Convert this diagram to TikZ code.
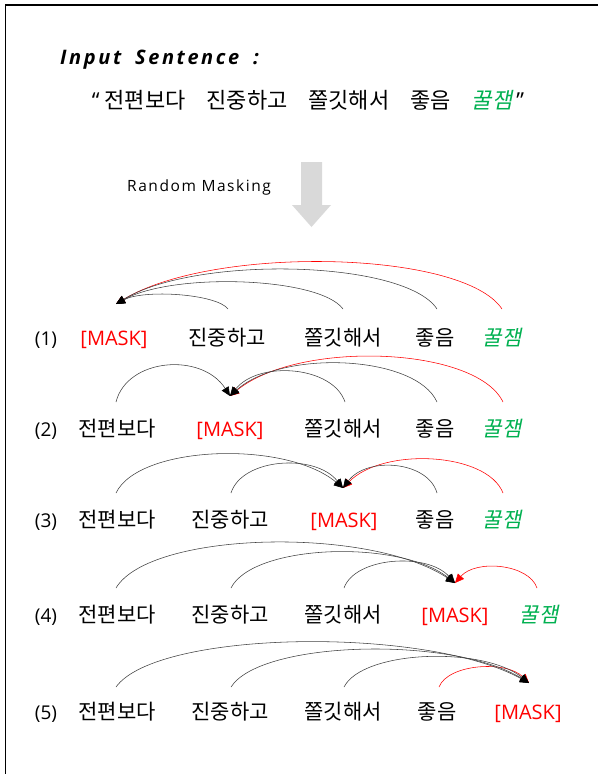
\documentclass[tikz,border=0pt]{standalone}
\usepackage{fontspec}
\usetikzlibrary{arrows.meta}
\setmainfont{Open Sans}
\newfontfamily\kr{Noto Sans CJK KR}
\newfontfamily\krit[FakeSlant=0.2]{Noto Sans CJK KR}
\newfontfamily\titlefont[LetterSpace=13]{Open Sans}
\newfontfamily\rmfont[LetterSpace=10]{Open Sans}
\definecolor{mygreen}{RGB}{0,176,80}
\definecolor{myred}{RGB}{255,0,0}
\definecolor{arrowgray}{RGB}{217,217,217}
\tikzset{
  word/.style={anchor=base, inner sep=0pt, font=\kr\fontsize{21}{21}\selectfont},
  maskw/.style={anchor=base, inner sep=0pt, text=myred, font=\fontsize{20}{20}\selectfont},
  greenw/.style={anchor=base, inner sep=0pt, text=mygreen, font=\krit\fontsize{21}{21}\selectfont},
  rowlab/.style={anchor=base, inner sep=0pt, font=\fontsize{19}{19}\selectfont},
  arcblk/.style={line width=0.55pt, black!75, -{Triangle[length=9pt,width=8pt,color=black,fill=black]}},
  arcred/.style={line width=0.55pt, myred, -{Triangle[length=9pt,width=8pt]}},
}
\begin{document}
\begin{tikzpicture}[x=1pt,y=-1pt]
\useasboundingbox (0,0) rectangle (598,774);
% frame
\draw[line width=1.6pt] (5,5) -- (598,5);
\draw[line width=0.8pt] (5,5) -- (5,774);
% title
\node[anchor=base west, inner sep=0pt, font=\titlefont\bfseries\itshape\fontsize{20}{20}\selectfont] (title) at (60,64) {Input\hspace{6pt} Sentence\hspace{6pt} :};
\node[anchor=base, inner sep=0pt, font=\kr\fontsize{22}{22}\selectfont] (sent) at (308,108) {{\rmfamily “}\hspace{5pt}전편보다\hspace{21pt}진중하고\hspace{21pt}쫄깃해서\hspace{21pt}좋음\hspace{21pt}{\krit\color{mygreen}꿀잼}\hspace{4pt}{\rmfamily ”}};
\node[anchor=base west, inner sep=0pt, font=\rmfont\fontsize{15.5}{15.5}\selectfont] (rm) at (127,191) {Random Masking};
\fill[arrowgray] (301,162) -- (322,162) -- (322,205) -- (331,205) -- (311.5,227) -- (292,205) -- (301,205) -- cycle;

% ---------- row 1
\node[rowlab] (l1) at (46,345) {(1)};
\node[maskw] (w11) at (114,345) {[MASK]};
\node[word] (w12) at (227,345) {진중하고};
\node[word] (w13) at (343,345) {쫄깃해서};
\node[word] (w14) at (435,345) {좋음};
\node[greenw] (w15) at (502,345) {꿀잼};
\coordinate (t1) at (116,304);
\coordinate (s12) at (228,309);
\coordinate (s13) at (343,309);
\coordinate (s14) at (437,309);
\coordinate (s15) at (502,309);
\draw[arcred] (s15) .. controls +(-39,-59) and +(97,-59) .. (t1);
\draw[arcblk] (s12) .. controls +(-11,-15) and +(28,-15) .. (t1);
\draw[arcblk] (s13) .. controls +(-23,-32) and +(57,-32) .. (t1);
\draw[arcblk] (s14) .. controls +(-32,-49) and +(80,-49) .. (t1);

% ---------- row 2
\node[rowlab] (l2) at (46,436) {(2)};
\node[word] (w21) at (117,436) {전편보다};
\node[maskw] (w22) at (230,436) {[MASK]};
\node[word] (w23) at (343,436) {쫄깃해서};
\node[word] (w24) at (435,436) {좋음};
\node[greenw] (w25) at (502,436) {꿀잼};
\coordinate (t2) at (230,396);
\coordinate (s21) at (116,402);
\coordinate (s23) at (345,402);
\coordinate (s24) at (437,402);
\coordinate (s25) at (503,402);
\draw[arcred] (s25) .. controls +(-27,-56) and +(68,-56) .. (t2);
\draw[arcblk] (s21) .. controls +(11,-44) and +(-28,-44) .. (t2);
\draw[arcblk] (s23) .. controls +(-12,-36) and +(29,-36) .. (t2);
\draw[arcblk] (s24) .. controls +(-21,-47) and +(52,-47) .. (t2);

% ---------- row 3
\node[rowlab] (l3) at (46,527) {(3)};
\node[word] (w31) at (117,527) {전편보다};
\node[word] (w32) at (230,527) {진중하고};
\node[maskw] (w33) at (344,527) {[MASK]};
\node[word] (w34) at (435,527) {좋음};
\node[greenw] (w35) at (502,527) {꿀잼};
\coordinate (t3) at (343,488);
\coordinate (s31) at (116,493);
\coordinate (s32) at (231,493);
\coordinate (s34) at (437,493);
\coordinate (s35) at (503,493);
\draw[arcred] (s35) .. controls +(-16,-41) and +(40,-41) .. (t3);
\draw[arcblk] (s31) .. controls +(23,-48) and +(-57,-48) .. (t3);
\draw[arcblk] (s32) .. controls +(11,-35) and +(-28,-35) .. (t3);
\draw[arcblk] (s34) .. controls +(-9,-32) and +(24,-32) .. (t3);

% ---------- row 4
\node[rowlab] (l4) at (46,622) {(4)};
\node[word] (w41) at (117,622) {전편보다};
\node[word] (w42) at (230,622) {진중하고};
\node[word] (w43) at (343,622) {쫄깃해서};
\node[maskw] (w44) at (455,622) {[MASK]};
\node[greenw] (w45) at (539,622) {꿀잼};
\coordinate (t4) at (455,583);
\coordinate (s41) at (116,588);
\coordinate (s42) at (231,588);
\coordinate (s43) at (344,588);
\coordinate (s45) at (537,588);
\draw[arcblk] (s41) .. controls +(34,-57) and +(-85,-57) .. (t4);
\draw[arcblk] (s42) .. controls +(22,-44) and +(-56,-44) .. (t4);
\draw[arcblk] (s43) .. controls +(11,-31) and +(-28,-31) .. (t4);
\draw[arcred] (s45) .. controls +(-8,-24) and +(21,-24) .. (t4);

% ---------- row 5
\node[rowlab] (l5) at (46,719) {(5)};
\node[word] (w51) at (117,719) {전편보다};
\node[word] (w52) at (230,719) {진중하고};
\node[word] (w53) at (343,719) {쫄깃해서};
\node[word] (w54) at (437,719) {좋음};
\node[maskw] (w55) at (528,719) {[MASK]};
\coordinate (t5) at (529,683);
\coordinate (s51) at (116,687);
\coordinate (s52) at (231,687);
\coordinate (s53) at (344,687);
\coordinate (s54) at (439,687);
\draw[arcred] (s54) .. controls +(9,-23) and +(-23,-23) .. (t5);
\draw[arcblk] (s51) .. controls +(41,-57) and +(-103,-57) .. (t5);
\draw[arcblk] (s52) .. controls +(30,-47) and +(-75,-47) .. (t5);
\draw[arcblk] (s53) .. controls +(19,-37) and +(-46,-37) .. (t5);
\end{tikzpicture}
\end{document}
